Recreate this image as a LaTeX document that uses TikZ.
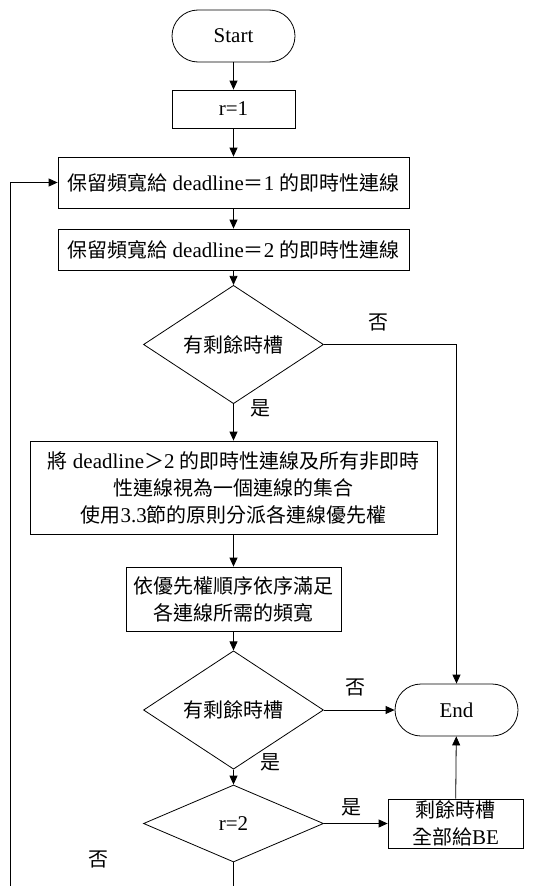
\documentclass[tikz,border=0pt]{standalone}
\usepackage{fontspec}
\setmainfont{Liberation Serif}
\newfontfamily\cjk[Scale=0.95]{Noto Sans CJK TC}
\usetikzlibrary{shapes.geometric,arrows.meta}

\begin{document}
\begin{tikzpicture}[x=1pt,y=-1pt,font=\fontsize{21}{27}\selectfont,
  line width=0.8pt,
  >={Triangle[length=9pt,width=8pt]},
  terminal/.style={draw,rounded corners=26pt,minimum width=123pt,minimum height=52pt,inner sep=0pt},
  procbox/.style={draw,align=center,inner sep=0pt},
  decision/.style={draw,diamond,minimum width=180pt,minimum height=77pt,inner sep=0pt},
  lbl/.style={inner sep=0pt}]

\useasboundingbox (0,0) rectangle (550,886);

% main column
\node[terminal] (start) at (233.5,36) {Start};
\node[procbox,minimum width=123pt,minimum height=38pt] (r1) at (233.5,109) {r=1};
\node[procbox,minimum width=351pt,minimum height=51pt] (resv1) at (233.5,182.5)
  {{\cjk 保留頻寬給} deadline{\cjk ＝}1 {\cjk 的即時性連線}};
\node[procbox,minimum width=351pt,minimum height=41pt] (resv2) at (233.5,249.5)
  {{\cjk 保留頻寬給} deadline{\cjk ＝}2 {\cjk 的即時性連線}};
\node[decision] (slot1) at (233.5,344.5) {\cjk 有剩餘時槽};
\node[procbox,minimum width=407pt,minimum height=93pt] (prio) at (233.5,487.5)
  {{\cjk 將} deadline{\cjk ＞}2 {\cjk 的即時性連線及所有非即時}\\
   {\cjk 性連線視為一個連線的集合}\\
   {\cjk 使用}3.3{\cjk 節的原則分派各連線優先權}};
\node[procbox,minimum width=215pt,minimum height=64pt] (fill) at (233.5,599)
  {{\cjk 依優先權順序依序滿足}\\{\cjk 各連線所需的頻寬}};
\node[decision] (slot2) at (233.5,710) {\cjk 有剩餘時槽};
\node[decision] (round) at (233.5,823.5) {r=2};

% right column
\node[terminal] (end) at (456.5,710) {End};
\node[procbox,minimum width=135pt,minimum height=49pt] (be) at (455.5,823.5)
  {{\cjk 剩餘時槽}\\{\cjk 全部給}BE};

\coordinate (down) at (233.5,886);
\coordinate (back) at (10,886);

\draw[->] (start) -- (r1);
\draw[->] (r1) -- (resv1);
\draw[->] (resv1) -- (resv2);
\draw[->] (resv2) -- (slot1);
\draw[->] (slot1) -- (prio);
\draw[->] (prio) -- (fill);
\draw[->] (fill) -- (slot2);
\draw[->] (slot2) -- (round);
\draw[->] (slot1.east) -| (end.north);
\draw[->] (slot2.east) -- (end.west);
\draw[->] (round.east) -- (be.west);
\draw[->] (be) -- (end);
\draw (round.south) -- (down);
\draw[->] (back) |- (resv1.west);

\node[lbl] (no1) at (378,322) {\cjk 否};
\node[lbl] (yes1) at (260,408) {\cjk 是};
\node[lbl] (no2) at (355,687) {\cjk 否};
\node[lbl] (yes2) at (270,762) {\cjk 是};
\node[lbl] (yes3) at (351,807) {\cjk 是};
\node[lbl] (no3) at (98,859) {\cjk 否};

\end{tikzpicture}
\end{document}
